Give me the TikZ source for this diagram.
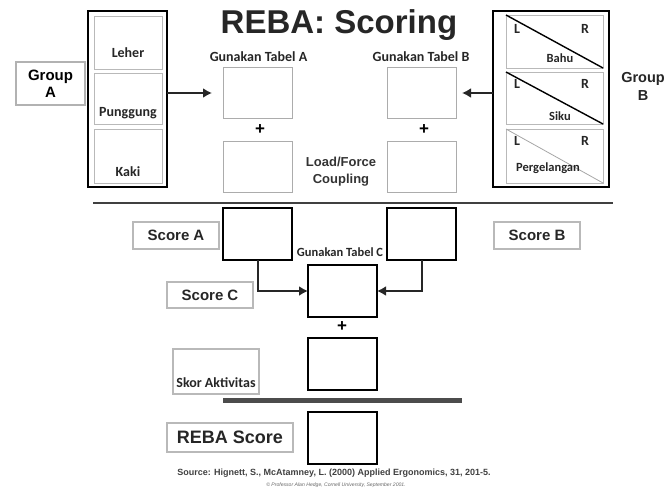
\documentclass[tikz,border=0pt]{standalone}
\usepackage{fontspec}
\setmainfont{Liberation Sans}
\newfontfamily\carl{Carlito}
\usetikzlibrary{arrows.meta,positioning}

\begin{document}
\begin{tikzpicture}
[x=1pt,y=-1pt,
 every node/.style={inner sep=0pt,outer sep=0pt},
 grp/.style={draw=gray!60,line width=1.2pt,minimum width=69pt,minimum height=43pt,align=center,font=\bfseries\fontsize{15}{17}\selectfont},
 lbl/.style={draw=gray!55,line width=1.2pt,minimum width=86pt,minimum height=27pt,font=\bfseries\fontsize{15}{16}\selectfont,text=black!85},
 bigbox/.style={draw=black,line width=2.8pt},
 part/.style={draw=gray!55,line width=1pt},
 tab/.style={draw=gray!65,line width=1pt,minimum width=69pt,minimum height=51pt},
 res/.style={draw=black,line width=2pt,minimum width=69pt,minimum height=52pt},
 sm/.style={font=\carl\bfseries\fontsize{14}{15}\selectfont,text=black!85},
 tiny/.style={font=\carl\bfseries\fontsize{12.5}{13}\selectfont,text=black!85},
 pl/.style={font=\bfseries\fontsize{17}{17}\selectfont},
 arr/.style={-{Latex[length=9pt,width=10pt]},line width=2.6pt,black!85},
 thick]
\useasboundingbox (0,0) rectangle (668,498);

\node[font=\bfseries\fontsize{33}{36}\selectfont,text=black!85] (title) at (339,25) {REBA: Scoring};

% group A
\node[grp] (grpA) at (50.5,83.5) {Group\\A};
\node[bigbox,minimum width=79pt,minimum height=176pt] (bigA) at (127.5,99) {};
\node[part,minimum width=68pt,minimum height=53pt] (leher) at (128,42.5) {};
\node[part,minimum width=68pt,minimum height=51pt] (pung)  at (128,98.5) {};
\node[part,minimum width=68pt,minimum height=54pt] (kaki)  at (128,156) {};
\node[sm] at (128,53)  {Leher};
\node[sm] at (128,113) {Punggung};
\node[sm] at (128,172) {Kaki};

\node[sm] (gunA) at (258.5,57) {Gunakan Tabel A};
\node[tab] (tA1) at (257.5,93) {};
\node[pl]  (plA) at (260,130) {+};
\node[tab] (tA2) at (257.5,166.5) {};
\draw[arr] (bigA.east |- tA1) -- ([xshift=-11pt]tA1.west);

\node[align=center,font=\bfseries\fontsize{13}{17}\selectfont,text=black!80] (load) at (341,171.5) {Load/Force\\Coupling};

% group B
\node[sm] (gunB) at (421,57) {Gunakan Tabel B};
\node[tab] (tB1) at (421.5,93) {};
\node[pl]  (plB) at (424,130) {+};
\node[tab] (tB2) at (421.5,166.5) {};

\node[bigbox,minimum width=116pt,minimum height=176pt] (bigB) at (551,99) {};
\node[part,minimum width=97pt,minimum height=53pt] (bahu) at (554.5,41.5) {};
\node[part,minimum width=97pt,minimum height=52pt] (siku) at (554.5,98) {};
\node[part,minimum width=97pt,minimum height=54pt] (perg) at (554.5,156) {};
\draw[line width=1.4pt] (bahu.north west) -- (bahu.south east);
\draw[line width=1.4pt] (siku.north west) -- (siku.south east);
\draw[line width=0.8pt,gray!70] (perg.north west) -- (perg.south east);
\foreach \p/\y in {bahu/29,siku/84,perg/141} {
  \node[sm] (L\p) at (517,\y) {L};
  \node[sm] (R\p) at (585,\y) {R};
}
\node[tiny] at (560,58)  {Bahu};
\node[tiny] at (560,116) {Siku};
\node[tiny] at (548,168) {Pergelangan};
\draw[arr] (bigB.west |- tB1) -- ([xshift=6pt]tB1.east);
\node[align=center,font=\bfseries\fontsize{14.5}{18}\selectfont,text=black!85] (grpB) at (643,86) {Group\\B};

\draw[line width=2.6pt,black!75] (93,203) -- (613,203);

% scores
\node[lbl] (scA) at (176,235.5) {Score A};
\node[res] (sA)  at (257.5,234) {};
\node[res] (sB)  at (421.5,234) {};
\node[lbl] (scB) at (537,235.5) {Score B};
\node[tiny] (gunC) at (340,252) {Gunakan Tabel C};
\node[res] (sC)  at (342.5,291) {};
\node[lbl,minimum height=26pt] (scC) at (210,295) {Score C};
\draw[arr,line width=2pt] (sA.south) |- (sC.west);
\draw[arr,line width=2pt] (sB.south) |- (sC.east);

\node[pl]  (plC) at (342,327) {+};
\node[res] (sD)  at (342.5,364) {};
\node[lbl,minimum height=45pt] (skor) at (216,371.5) {};
\node[sm] at (216,383) {Skor Aktivitas};
\draw[line width=5pt,black!70] (223,400) -- (462,400);

\node[lbl,minimum width=126pt,minimum height=29pt,font=\bfseries\fontsize{18}{20}\selectfont] (reba) at (230,437.5) {REBA Score};
\node[res] (sE) at (342.5,437.5) {};

\node[font=\bfseries\fontsize{9}{11}\selectfont,text=black!75] (src) at (334,473) {Source: Hignett, S., McAtamney, L. (2000) Applied Ergonomics, 31, 201-5.};
\node[font=\itshape\fontsize{5.1}{6}\selectfont,text=black!60] (copy) at (336,485) {\textcopyright\ Professor Alan Hedge, Cornell University, September 2001.};
\end{tikzpicture}
\end{document}
